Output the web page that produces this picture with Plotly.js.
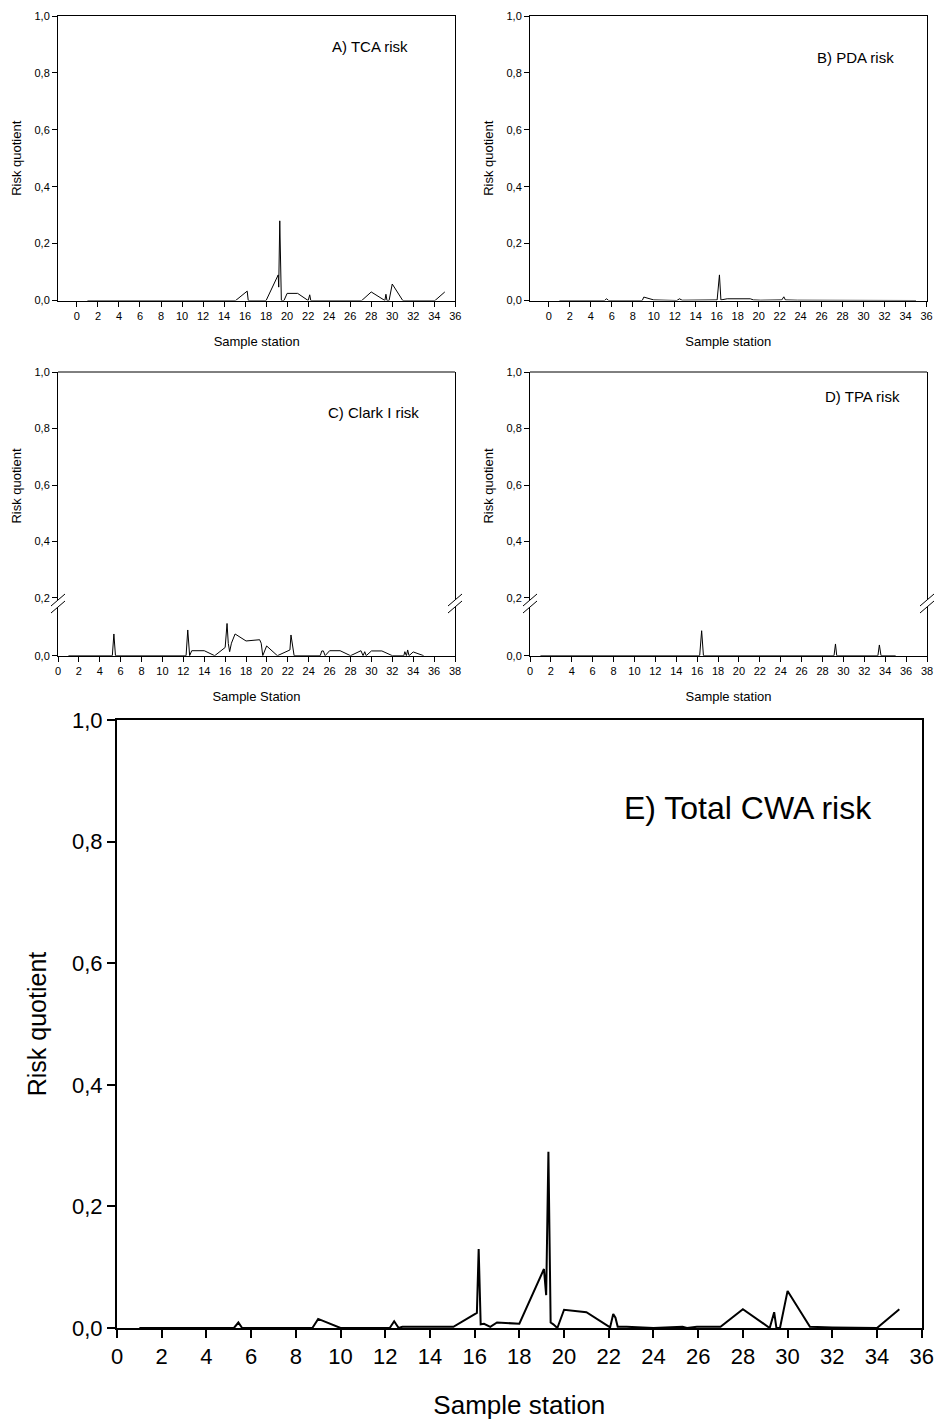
<!DOCTYPE html>
<html>
<head>
<meta charset="utf-8">
<script src="https://cdn.plot.ly/plotly-3.0.1.min.js"></script>
<style>html,body{margin:0;padding:0;background:#fff;}#chart{width:935px;height:1420px;}</style>
</head>
<body>
<div id="chart"></div>
<script>
// ---- Data ----
const tcaX = [1, 15.1, 16.2, 16.3, 18.0, 19.15, 19.2, 19.3, 19.45, 19.7, 20.0, 21.0, 22.0, 22.15, 22.25, 27.1, 28.0, 29.3, 29.4, 29.5, 29.7, 30.0, 31.0, 34.07, 35.0];
const tcaY = [0, 0, 0.033, 0, 0, 0.09, 0.047, 0.28, 0, 0, 0.025, 0.025, 0, 0.02, 0, 0, 0.03, 0, 0.022, 0, 0, 0.058, 0, 0, 0.03];

const pdaX = [1, 5.3, 5.5, 5.7, 8.9, 9.05, 10.0, 12.2, 12.45, 12.7, 16.04, 16.26, 16.4, 17.0, 19.2, 19.5, 20.2, 22.2, 22.4, 22.55, 23.7, 25, 26, 28, 29, 30, 31, 34, 35];
const pdaY = [0, 0, 0.006, 0, 0, 0.012, 0.002, 0, 0.006, 0.001, 0.002, 0.09, 0.002, 0.006, 0.006, 0.002, 0.001, 0.002, 0.013, 0.002, 0.001, 0.001, 0.0005, 0.001, 0.0005, 0.001, 0, 0, 0];

const clarkX = [1, 5.2, 5.35, 5.5, 12.26, 12.42, 12.6, 12.8, 14.0, 15.0, 16.0, 16.18, 16.3, 16.43, 16.6, 16.95, 18.0, 19.3, 19.45, 19.6, 19.97, 21.0, 22.2, 22.3, 22.6, 25.1, 25.25, 25.4, 25.57, 26.0, 27.0, 28.0, 29.0, 29.2, 29.36, 29.5, 30.0, 31.0, 32.0, 33.1, 33.2, 33.35, 33.47, 33.6, 34.0, 35.0];
const clarkY = [0, 0, 0.0087, 0, 0, 0.0103, 0, 0.002, 0.002, 0, 0.0033, 0.0129, 0.0049, 0.0016, 0.005, 0.0087, 0.0059, 0.0064, 0.005, 0, 0.0039, 0, 0.0023, 0.0083, 0, 0, 0.0019, 0.0019, 0, 0.002, 0.002, 0, 0.002, 0, 0.0016, 0, 0.0019, 0.0019, 0, 0, 0.0016, 0, 0.0023, 0, 0.0015, 0];

const tpaX = [1, 16.24, 16.43, 16.6, 29.1, 29.24, 29.36, 33.3, 33.44, 33.6, 35];
const tpaY = [0, 0, 0.01, 0, 0, 0.0047, 0, 0, 0.0043, 0, 0];

const totalX = [1, 5.23, 5.43, 5.6, 8.74, 9.0, 10.0, 12.2, 12.4, 12.6, 12.77, 15.05, 16.1, 16.18, 16.27, 16.42, 16.7, 17.0, 18.0, 19.1, 19.2, 19.3, 19.4, 19.52, 19.7, 20.0, 21.0, 22.06, 22.2, 22.3, 22.4, 22.8, 24.0, 25.3, 25.5, 25.94, 27.0, 28.0, 29.2, 29.4, 29.5, 29.66, 30.0, 31.0, 32.0, 33.2, 33.3, 33.5, 34.0, 35.0];
const totalY = [0, 0, 0.009, 0, 0, 0.015, 0, 0, 0.011, 0, 0.002, 0.002, 0.025, 0.13, 0.006, 0.007, 0.002, 0.009, 0.007, 0.097, 0.054, 0.29, 0.009, 0.006, 0, 0.03, 0.026, 0.001, 0.023, 0.017, 0.002, 0.002, 0, 0.002, 0, 0.002, 0.002, 0.031, 0, 0.026, 0, 0, 0.061, 0.002, 0.001, 0.001, 0, 0.001, 0, 0.031];

const allTicks = [0, 0.2, 0.4, 0.6, 0.8, 1.0];
const upperTicks = [0.2, 0.4, 0.6, 0.8, 1.0];
const lowerTicks = [0];

const panelLabels = ["A) TCA risk", "B) PDA risk", "C) Clark I risk", "D) TPA risk", "E) Total CWA risk"];

// ---- Layout helpers (pixel -> paper) ----
const W = 935, H = 1420;
const px = v => v / W;
const py = v => 1 - v / H;
const FONT = "Liberation Sans, Arial, Helvetica, sans-serif";

function line(x, y, xa, ya, w) {
  return {x: x, y: y, xaxis: xa, yaxis: ya, type: 'scatter', mode: 'lines',
          line: {color: '#000', width: w}, hoverinfo: 'skip', showlegend: false};
}
function empty(xa, ya) {
  return {x: [], y: [], xaxis: xa, yaxis: ya, type: 'scatter', mode: 'lines', hoverinfo: 'skip', showlegend: false};
}

const data = [
  line(tcaX, tcaY, 'x', 'y', 1),
  line(pdaX, pdaY, 'x2', 'y2', 1),
  empty('x3', 'y3'),
  line(clarkX, clarkY, 'x3', 'y4', 1),
  empty('x4', 'y5'),
  line(tpaX, tpaY, 'x4', 'y6', 1),
  line(totalX, totalY, 'x5', 'y7', 2)
];

const small = {family: FONT, size: 11, color: '#000'};
const smallTitle = {family: FONT, size: 13, color: '#000'};

function xAx(dom, range, anchor, title, mirror, standoff) {
  return {domain: dom, range: range, anchor: anchor, tick0: 0, dtick: 2,
    ticks: 'outside', ticklen: 5, tickwidth: 1, tickcolor: '#000',
    showline: true, linecolor: '#000', linewidth: 1, mirror: mirror,
    showgrid: false, zeroline: false, tickfont: small, fixedrange: true,
    title: {text: title, font: smallTitle, standoff: standoff}};
}
function yAx(dom, range, anchor, tickvals, title, standoff) {
  return {domain: dom, range: range, anchor: anchor, tickmode: 'array', tickvals: tickvals,
    tickformat: '.1f', ticks: 'outside', ticklen: 5, tickwidth: 1, tickcolor: '#000',
    showline: true, linecolor: '#000', linewidth: 1, mirror: true,
    showgrid: false, zeroline: false, tickfont: small, fixedrange: true,
    title: {text: title, font: smallTitle, standoff: standoff}};
}

function label(text, x, y, size) {
  return {text: text, x: px(x), y: py(y), xref: 'paper', yref: 'paper', xanchor: 'center', yanchor: 'middle',
          showarrow: false, font: {family: FONT, size: size, color: '#000'}};
}

const layout = {
  width: W, height: H,
  margin: {l: 0, r: 0, t: 0, b: 0},
  paper_bgcolor: '#fff', plot_bgcolor: 'rgba(0,0,0,0)',
  separators: ',.',
  font: {family: FONT, color: '#000'},
  showlegend: false,
  // A
  xaxis: xAx([px(58), px(455.3)], [-1.8, 36], 'y', 'Sample station', true, 16),
  yaxis: yAx([py(300.5), py(16)], [0, 1], 'x', allTicks, 'Risk quotient', 9),
  // B
  xaxis2: xAx([px(530), px(926.5)], [-1.8, 36], 'y2', 'Sample station', true, 16),
  yaxis2: yAx([py(300.5), py(16)], [0, 1], 'x2', allTicks, 'Risk quotient', 9),
  // C
  xaxis3: xAx([px(58), px(455)], [0, 38], 'y4', 'Sample Station', false, 15),
  yaxis3: yAx([py(600), py(372)], [0.1929, 1.0], 'x3', upperTicks, 'Risk quotient', 9),
  yaxis4: yAx([py(655.7), py(607)], [0, 0.0195], 'x3', lowerTicks, '', 0),
  // D
  xaxis4: xAx([px(530), px(927)], [0, 38], 'y6', 'Sample station', false, 15),
  yaxis5: yAx([py(600), py(372)], [0.1929, 1.0], 'x4', upperTicks, 'Risk quotient', 9),
  yaxis6: yAx([py(655.7), py(607)], [0, 0.0195], 'x4', lowerTicks, '', 0),
  // E
  xaxis5: {domain: [px(117), px(921.7)], range: [0, 36], anchor: 'y7', tick0: 0, dtick: 2,
    ticks: 'outside', ticklen: 8, tickwidth: 2, tickcolor: '#000',
    showline: true, linecolor: '#000', linewidth: 2, mirror: true,
    showgrid: false, zeroline: false, fixedrange: true,
    tickfont: {family: FONT, size: 22, color: '#000'},
    title: {text: 'Sample station', font: {family: FONT, size: 26, color: '#000'}, standoff: 31}},
  yaxis7: {domain: [py(1328), py(720)], range: [0, 1], anchor: 'x5', tickmode: 'array', tickvals: allTicks,
    tickformat: '.1f', ticks: 'outside', ticklen: 8, tickwidth: 2, tickcolor: '#000',
    showline: true, linecolor: '#000', linewidth: 2, mirror: true,
    showgrid: false, zeroline: false, fixedrange: true,
    tickfont: {family: FONT, size: 22, color: '#000'},
    title: {text: 'Risk quotient', font: {family: FONT, size: 25, color: '#000'}, standoff: 18}},
  annotations: [
    label(panelLabels[0], 370, 47, 15),
    label(panelLabels[1], 855, 57, 15),
    label(panelLabels[2], 373, 413, 15),
    label(panelLabels[3], 862, 397, 15),
    label(panelLabels[4], 748, 808, 32)
  ],
  shapes: []
};

// top border lines for broken panels C and D
[[58, 455], [530, 927]].forEach(([a, b]) => {
  layout.shapes.push({type: 'line', xref: 'paper', yref: 'paper', x0: px(a), x1: px(b), y0: py(372), y1: py(372), line: {color: '#000', width: 1}});
});
// axis-break marks
[58, 455, 530, 927].forEach(xc => {
  [600, 607].forEach(yc => {
    layout.shapes.push({type: 'line', xref: 'paper', yref: 'paper',
      x0: px(xc - 7), y0: py(yc + 6), x1: px(xc + 7), y1: py(yc - 6), line: {color: '#000', width: 1}});
  });
});

Plotly.newPlot('chart', data, layout, {staticPlot: true, displayModeBar: false});
</script>
</body>
</html>
